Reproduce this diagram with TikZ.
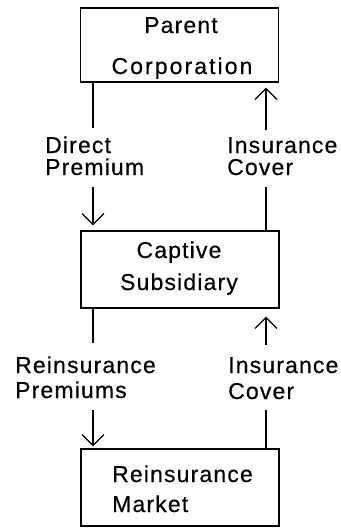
\documentclass[tikz,border=0pt]{standalone}
\usepackage{fontspec}
\setmainfont{Liberation Sans}[LetterSpace=5,FakeBold=0.4]
\usetikzlibrary{arrows.meta}
\tikzset{
  box/.style={draw, line width=1.2pt, minimum width=198pt, inner sep=0pt},
  txt/.style={inner sep=0pt, font=\fontsize{23}{23}\selectfont},
  flow/.style={line width=1.2pt},
  arr/.style={flow, -{Straight Barb[length=11pt,width=22pt,line width=1.2pt]}}
}
\begin{document}
\begin{tikzpicture}[x=1pt,y=-1pt]
\useasboundingbox (0,0) rectangle (340,530);
% boxes
\node[box, minimum height=74pt] (parent) at (179.5,45) {};
\node[box, minimum height=77pt] (captive) at (180,269.5) {};
\node[box, minimum height=77pt] (market) at (180,487.5) {};
% box texts
\node[txt, anchor=base] (parent1) at (181,33) {Parent};
\node[txt, anchor=base] (parent2) at (182,74) {\addfontfeatures{LetterSpace=9}Corporation};
\node[txt, anchor=base] (captive1) at (179,258) {Captive};
\node[txt, anchor=base] (captive2) at (179,290) {Subsidiary};
\node[txt, anchor=base west] (market1) at (112,482) {Reinsurance};
\node[txt, anchor=base west] (market2) at (112,512) {Market};
% labels
\node[txt, anchor=base west] (dp1) at (45,153) {Direct};
\node[txt, anchor=base west] (dp2) at (45,175) {Premium};
\node[txt, anchor=base west] (ic1) at (227,153) {Insurance};
\node[txt, anchor=base west] (ic2) at (227,175) {Cover};
\node[txt, anchor=base west] (rp1) at (15,373) {Reinsurance};
\node[txt, anchor=base west] (rp2) at (15,398) {Premiums};
\node[txt, anchor=base west] (ic3) at (228,373) {Insurance};
\node[txt, anchor=base west] (ic4) at (228,399) {Cover};
% connector end points
\coordinate (a1) at (93,128);
\coordinate (a2) at (93,187);
\coordinate (b1) at (266,130);
\coordinate (b2) at (266,187);
\coordinate (c1) at (93,343);
\coordinate (c2) at (93,410);
\coordinate (d1) at (266,345);
\coordinate (d2) at (266,410);
% connectors
\draw[flow] (a1 |- parent.south) -- (a1);
\draw[arr, shorten >=5pt] (a2) -- (a2 |- captive.north);
\draw[arr, shorten >=5pt] (b1) -- (b1 |- parent.south);
\draw[flow] (b2) -- (b2 |- captive.north);
\draw[flow] (c1 |- captive.south) -- (c1);
\draw[arr, shorten >=8pt] (d1) -- (d1 |- captive.south);
\draw[arr, shorten >=2pt] (c2) -- (c2 |- market.north);
\draw[flow] (d2) -- (d2 |- market.north);
\end{tikzpicture}
\end{document}
